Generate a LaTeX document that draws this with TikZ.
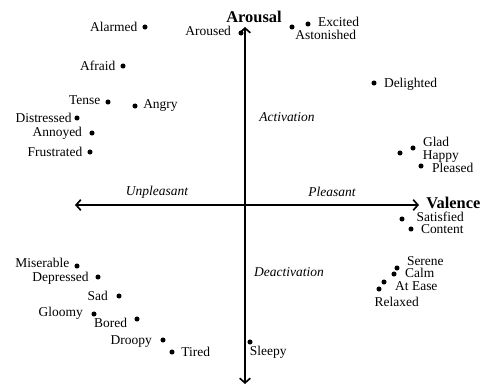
\documentclass[tikz,border=0pt]{standalone}
\usepackage{fontspec}
\setmainfont{Liberation Serif}
\usetikzlibrary{arrows.meta,positioning}
\tikzset{
	axis/.style={line width=1.4pt, {Straight Barb[length=4pt,width=9pt]}-{Straight Barb[length=4pt,width=9pt]}},
	el/.style={inner sep=0pt, font=\fontsize{11.5}{13}\selectfont}
}
\begin{document}
\begin{tikzpicture}[x=0.03cm, y=-0.03cm]
		\tikzstyle{dot} = [circle, fill, minimum size=4.3pt, inner sep=0pt]
		\tikzstyle{axlab} = [inner sep=0pt, font=\fontsize{14}{16}\selectfont\bfseries]
		\tikzstyle{region} = [inner sep=0pt, font=\fontsize{11.5}{13}\selectfont\itshape]
		\useasboundingbox (0,0) rectangle (487,385);
		% axes
		\coordinate (top) at (245,27);
		\coordinate (bottom) at (245,384);
		\coordinate (west) at (75,205);
		\coordinate (east) at (419,205);
		\draw[axis] (bottom) -- (top);
		\draw[axis] (west) -- (east);
		\node[axlab] (arousal) at (254,17) {Arousal};
		\node[axlab, right=6pt of east, yshift=2pt] (valence) {Valence};
		\node[region] (activation) at (287,117) {Activation};
		\node[region] (pleasant) at (332,192) {Pleasant};
		\node[region] (unpleasant) at (157,192) {Unpleasant};
		\node[region] (deactivation) at (289,272) {Deactivation};
		% upper left
		\path
		node[dot] (alarmed) at (145,27) {}
		node[dot] (aroused) at (241,33) {}
		node[dot] (afraid) at (123,66) {}
		node[dot] (tense) at (108,102) {}
		node[dot] (angry) at (135,106) {}
		node[dot] (distressed) at (77,118) {}
		node[dot] (annoyed) at (92,133) {}
		node[dot] (frustrated) at (90,152) {}
		node[el, left=4pt of alarmed] (alarmed-l) {Alarmed}
		node[el, left=6pt of aroused, yshift=1.5pt] (aroused-l) {Aroused}
		node[el, left=4pt of afraid] (afraid-l) {Afraid}
		node[el, left=4pt of tense, yshift=1.5pt] (tense-l) {Tense}
		node[el, right=4.5pt of angry] (angry-l) {Angry}
		node[el, left=2pt of distressed] (distressed-l) {Distressed}
		node[el, left=6pt of annoyed] (annoyed-l) {Annoyed}
		node[el, left=4pt of frustrated] (frustrated-l) {Frustrated};
		% upper right
		\path
		node[dot] (astonished) at (292,27) {}
		node[dot] (excited) at (308,24) {}
		node[dot] (delighted) at (374,83) {}
		node[dot] (glad) at (413,148) {}
		node[dot] (happy) at (400,153) {}
		node[dot] (pleased) at (421,166) {}
		node[el, below right=0.5pt and 1pt of astonished] (astonished-l) {Astonished}
		node[el, right=6pt of excited, yshift=2pt] (excited-l) {Excited}
		node[el, right=6pt of delighted, yshift=-1.5pt] (delighted-l) {Delighted}
		node[el, right=6pt of glad, yshift=5pt] (glad-l) {Glad}
		node[el, right=17pt of happy, yshift=-3pt] (happy-l) {Happy}
		node[el, right=7pt of pleased, yshift=-1.5pt] (pleased-l) {Pleased};
		% lower right
		\path
		node[dot] (satisfied) at (402,219) {}
		node[dot] (content) at (411,229) {}
		node[dot] (serene) at (397,268) {}
		node[dot] (calm) at (394,274) {}
		node[dot] (atease) at (384,282) {}
		node[dot] (relaxed) at (379,289) {}
		node[dot] (sleepy) at (250,342) {}
		node[el, right=10pt of satisfied, yshift=2.2pt] (satisfied-l) {Satisfied}
		node[el, right=6pt of content, yshift=-0.5pt] (content-l) {Content}
		node[el, right=6pt of serene, yshift=6pt] (serene-l) {Serene}
		node[el, right=7pt of calm, yshift=1pt] (calm-l) {Calm}
		node[el, right=7pt of atease, yshift=-3.5pt] (atease-l) {At Ease}
		node[el, below right=5pt and -5.5pt of relaxed] (relaxed-l) {Relaxed}
		node[el, below right=2pt and -2pt of sleepy] (sleepy-l) {Sleepy};
		% lower left
		\path
		node[dot] (miserable) at (77,266) {}
		node[dot] (depressed) at (98,277) {}
		node[dot] (sad) at (119,296) {}
		node[dot] (gloomy) at (94,314) {}
		node[dot] (bored) at (137,319) {}
		node[dot] (droopy) at (163,340) {}
		node[dot] (tired) at (172,352) {}
		node[el, left=4pt of miserable, yshift=2.5pt] (miserable-l) {Miserable}
		node[el, left=5.5pt of depressed, yshift=-1pt] (depressed-l) {Depressed}
		node[el, left=7pt of sad] (sad-l) {Sad}
		node[el, left=7pt of gloomy, yshift=1pt] (gloomy-l) {Gloomy}
		node[el, left=6pt of bored, yshift=-3.5pt] (bored-l) {Bored}
		node[el, left=7pt of droopy, yshift=-1.5pt] (droopy-l) {Droopy}
		node[el, right=5.5pt of tired] (tired-l) {Tired};
\end{tikzpicture}
\end{document}
